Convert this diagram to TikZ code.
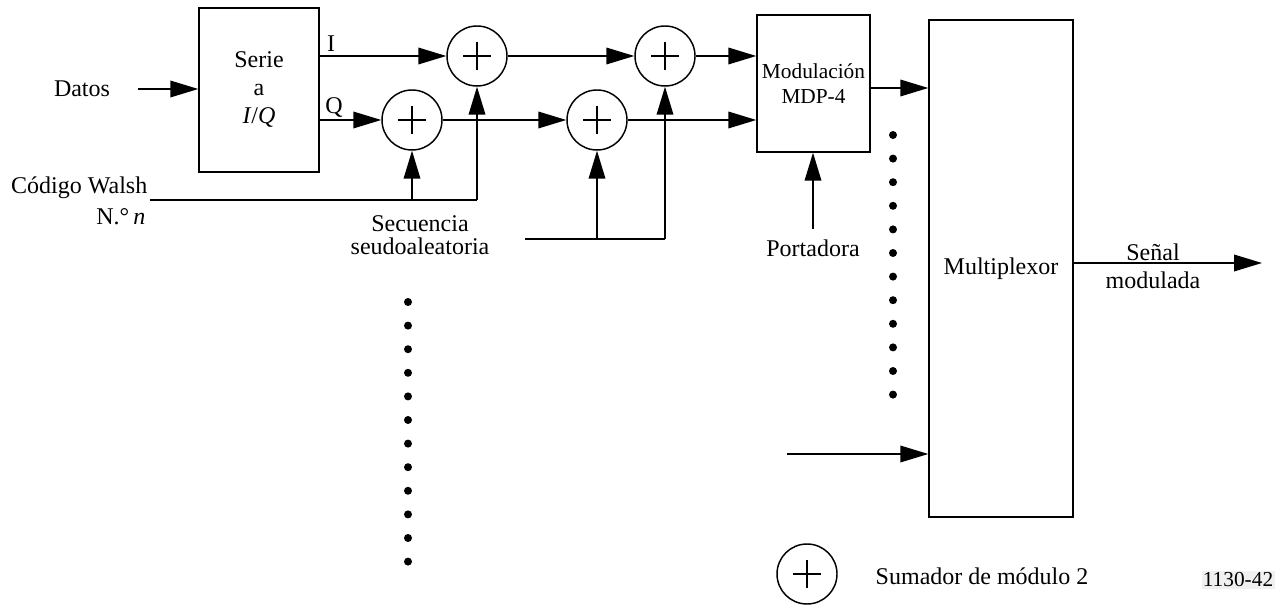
\documentclass[tikz,border=0pt]{standalone}
\usepackage{fontspec}
\setmainfont{Liberation Serif}
\usetikzlibrary{arrows.meta}
\begin{document}
\begin{tikzpicture}[x=0.75pt,y=-0.75pt,
  line width=1.1pt,
  >={Triangle[length=21pt,width=12.5pt]},
  block/.style={draw,rectangle,inner sep=0pt,align=center,font=\fontsize{18pt}{21pt}\selectfont},
  adder/.style={draw,circle,minimum size=45pt,inner sep=0pt,
    path picture={\draw[line width=1.1pt]
      ([xshift=-10.5pt]path picture bounding box.center) -- ([xshift=10.5pt]path picture bounding box.center)
      ([yshift=-10.5pt]path picture bounding box.center) -- ([yshift=10.5pt]path picture bounding box.center);}},
  lbl/.style={inner sep=0pt,align=center,font=\fontsize{18pt}{21pt}\selectfont},
  dotmark/.style={circle,fill,inner sep=0pt,minimum size=6pt}
]
\useasboundingbox (0,0) rectangle (1276,605);

% blocks
\node[block,minimum width=90pt,minimum height=123pt] (serie) at (259,90) {Serie\\a\\\textit{I}/\textit{Q}};
\node[block,minimum width=84.75pt,minimum height=102.75pt,font=\fontsize{16pt}{19pt}\selectfont] (mod) at (813.5,83.5) {Modulación\\MDP-4};
\node[block,minimum width=108pt,minimum height=372.75pt] (mux) at (1001,268.5) {Multiplexor};

% adders
\node[adder] (adA) at (477,56) {};
\node[adder] (adB) at (412,120) {};
\node[adder] (adC) at (597,120) {};
\node[adder] (adD) at (665,56) {};

% labels
\node[lbl] (datos) at (82,89) {Datos};
\node[lbl] (ilab) at (331,44) {I};
\node[lbl] (qlab) at (334,108) {Q};
\node[lbl,anchor=east] (walsh1) at (148,188) {Código Walsh};
\node[lbl,anchor=east] (walsh2) at (146,217) {N.°\,\textit{n}};
\node[lbl] (sec1) at (420,224) {Secuencia};
\node[lbl] (sec2) at (420,246) {seudoaleatoria};
\node[lbl] (port) at (813,248) {Portadora};
\node[lbl] (sen1) at (1153,252) {Señal};
\node[lbl] (sen2) at (1153,280) {modulada};

% coordinates for free ends
\coordinate (d0) at (138,89);
\coordinate (w0) at (150,200);
\coordinate (s0) at (525,239);
\coordinate (p0) at (813,229);
\coordinate (m88) at (0,88);
\coordinate (x0) at (787,454);
\coordinate (o1) at (1262,263);

% connectors
\draw[->] (d0) -- (d0 -| serie.west);
\draw[->] (serie.east |- adA) -- (adA);
\draw[->] (serie.east |- adB) -- (adB);
\draw[->] (adB) -- (adC);
\draw[->] (adA) -- (adD);
\draw[->] (adD) -- (adD -| mod.west);
\draw[->] (adC) -- (adC -| mod.west);

\draw (w0) -- (w0 -| adA);
\draw[->] (w0 -| adA) -- (adA);
\draw[->] (w0 -| adB) -- (adB);

\draw (s0) -- (s0 -| adD);
\draw[->] (s0 -| adD) -- (adD);
\draw[->] (s0 -| adC) -- (adC);

\draw[->] (p0) -- (p0 |- mod.south);
\draw[->] (m88 -| mod.east) -- (m88 -| mux.west);
\draw[->] (x0) -- (x0 -| mux.west);
\draw[->] (o1 -| mux.east) -- (o1);

% dots
\foreach \k in {0,...,11} {
  \node[dotmark] at (408,{302+23.6*\k}) {};
  \node[dotmark] at (893,{135+23.6*\k}) {};
}

% legend
\node[adder] (leg) at (807,574) {};
\node[lbl,anchor=west] (legtext) at (875,576) {Sumador de módulo 2};
\node[lbl,fill=gray!12,inner sep=1pt,font=\fontsize{16pt}{19pt}\selectfont] (fig) at (1238,580) {1130-42};
\end{tikzpicture}
\end{document}
